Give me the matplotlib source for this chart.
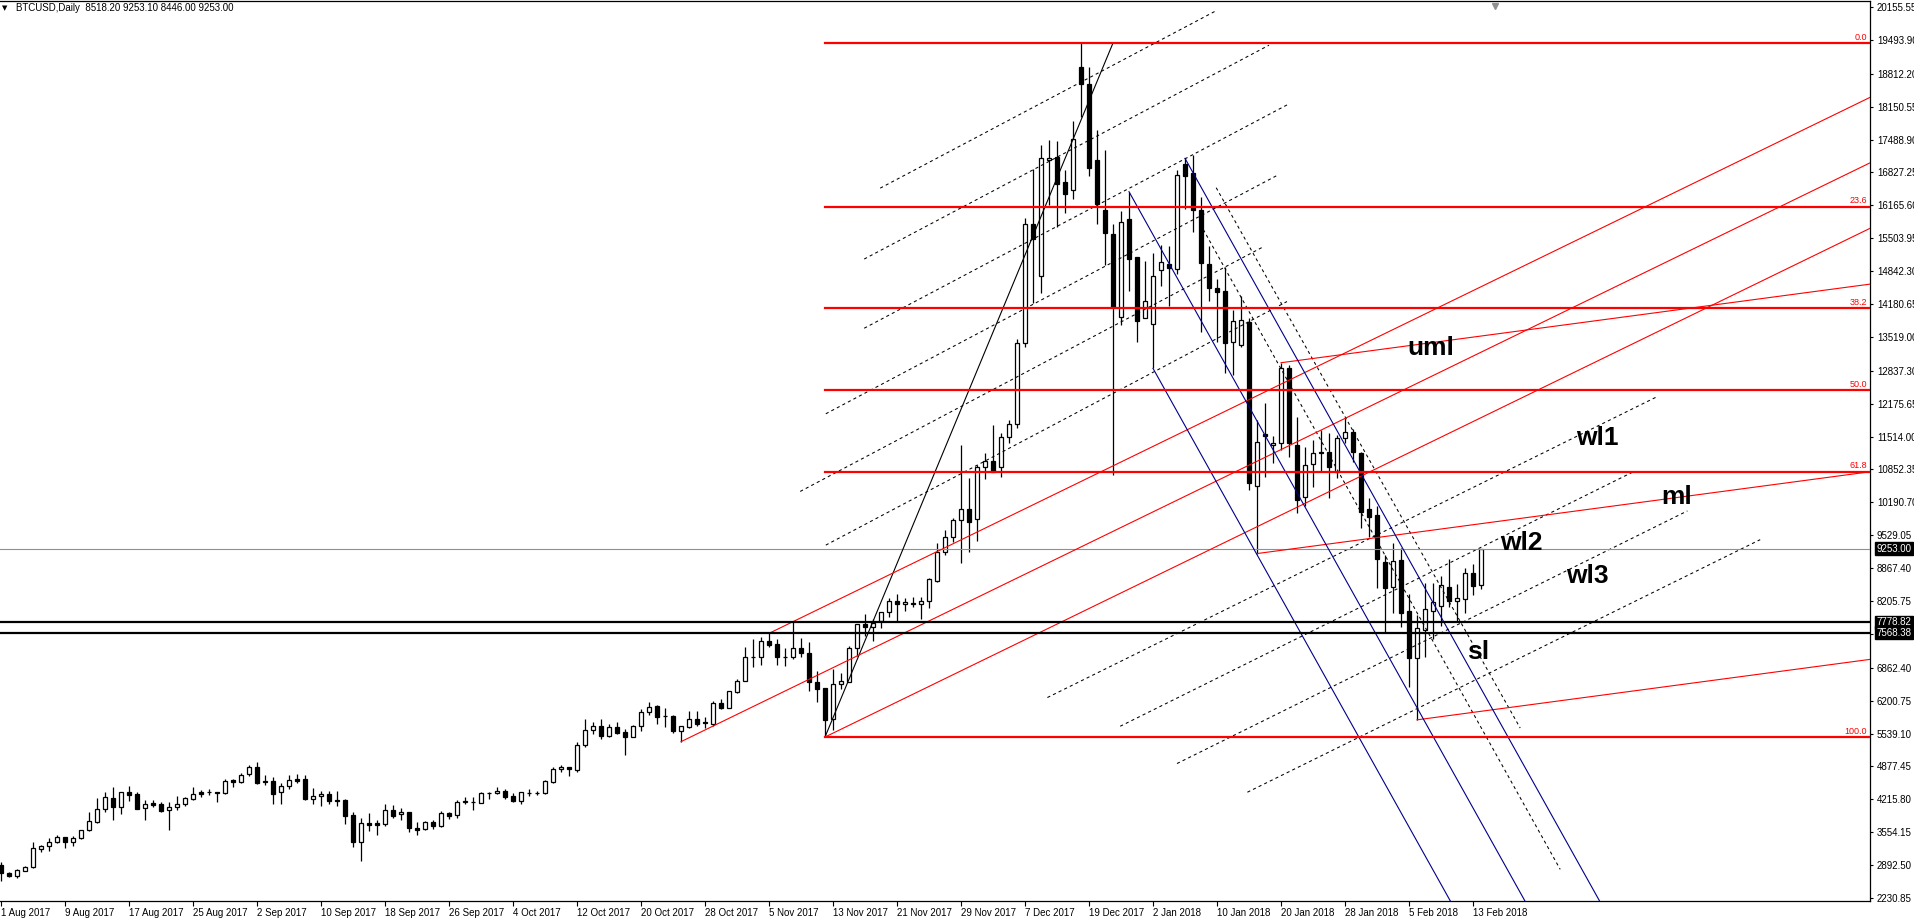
import matplotlib
matplotlib.use("Agg")
import matplotlib.pyplot as plt
import numpy as np

plt.rcParams["font.family"] = ["Liberation Sans", "DejaVu Sans"]

# daily candles, bar 0 = 1 Aug 2017
OPEN = [
    2894, 2733, 2679, 2780, 2847, 3222, 3269, 3350, 3457, 3363,
    3430, 3591, 3765, 4013, 4235, 4067, 4355, 4315, 4034, 4141,
    4114, 3993, 4067, 4114, 4228, 4362, 4362, 4355, 4335, 4604,
    4557, 4718, 4858, 4583, 4577, 4355, 4476, 4624, 4617, 4228,
    4275, 4315, 4201, 4201, 3893, 3363, 3739, 3739, 3725, 3993,
    3913, 3953, 3638, 3610, 3770, 3670, 3934, 3894, 4162, 4169,
    4148, 4336, 4336, 4383, 4282, 4189, 4350, 4350, 4336, 4571,
    4819, 4859, 4806, 5302, 5604, 5684, 5496, 5664, 5563, 5476,
    5684, 5966, 6086, 5885, 5892, 5597, 5677, 5825, 5765, 5738,
    6147, 6060, 6381, 6589, 7072, 7072, 7401, 7334, 7086, 7072,
    7253, 7153, 6569, 6448, 5824, 6535, 6582, 7253, 7736, 7689,
    7809, 7977, 8198, 8138, 8158, 8138, 8198, 8614, 9184, 9499,
    9828, 10049, 9848, 10907, 11021, 10894, 11511, 11760, 13389, 15783,
    14751, 17077, 17131, 16628, 16474, 18942, 18606, 17077, 16072, 15589,
    13912, 15891, 15119, 13892, 13771, 14865, 14985, 14878, 16997, 16822,
    16071, 14978, 14508, 14441, 13409, 13348, 13824, 10518, 11564, 11336,
    11390, 12886, 11343, 10304, 10961, 11209, 11196, 10807, 11478, 11599,
    11189, 10049, 9935, 8983, 8480, 9030, 8004, 7065, 7622, 8004,
    8105, 8494, 8212, 8239, 8762, 8518.2,
]
HIGH = [
    2947, 2746, 2813, 2867, 3350, 3303, 3437, 3497, 3464, 3477,
    3604, 3960, 4241, 4362, 4456, 4369, 4476, 4355, 4201, 4201,
    4154, 4154, 4275, 4255, 4456, 4409, 4416, 4362, 4617, 4624,
    4744, 4905, 4966, 4697, 4657, 4537, 4697, 4717, 4697, 4436,
    4376, 4376, 4382, 4228, 3953, 3839, 3933, 3799, 4121, 4094,
    4034, 3953, 3752, 3790, 3800, 3981, 3954, 4202, 4269, 4269,
    4370, 4370, 4457, 4423, 4336, 4356, 4417, 4383, 4604, 4873,
    4906, 4873, 5369, 5832, 5778, 5832, 5731, 5771, 5630, 5704,
    6026, 6167, 6107, 6053, 5912, 5691, 5993, 5993, 5865, 6194,
    6234, 6388, 6636, 7273, 7434, 7475, 7568, 7434, 7253, 7790,
    7454, 7374, 6797, 6448, 6830, 6763, 7300, 7736, 7943, 7836,
    7977, 8259, 8339, 8259, 8279, 8279, 8661, 9365, 9633, 9868,
    11343, 10673, 10941, 11176, 11746, 11591, 11846, 13470, 15904, 16890,
    17379, 17480, 17460, 16876, 17862, 19431, 18942, 17681, 17279, 15790,
    16051, 16440, 15119, 15052, 15213, 15367, 15347, 16876, 17111, 17177,
    16339, 15347, 14676, 14931, 14059, 14348, 13891, 11846, 12181, 11524,
    12999, 12953, 11913, 11310, 11444, 11645, 11591, 11544, 11880, 11659,
    11210, 10271, 10116, 9131, 9365, 9265, 8339, 7924, 8574, 8574,
    8708, 9044, 8540, 8862, 8950, 9253.1,
]
LOW = [
    2578, 2659, 2639, 2773, 2840, 3162, 3182, 3343, 3242, 3282,
    3410, 3584, 3745, 3966, 3799, 3919, 4188, 4020, 3799, 4054,
    3966, 3598, 4000, 4087, 4201, 4255, 4302, 4168, 4329, 4469,
    4537, 4691, 4516, 4510, 4127, 4127, 4429, 4537, 4208, 4127,
    4087, 4127, 4087, 3725, 3262, 2981, 3584, 3504, 3685, 3839,
    3806, 3564, 3504, 3590, 3620, 3660, 3813, 3847, 4122, 4001,
    4135, 4215, 4316, 4222, 4169, 4122, 4282, 4303, 4316, 4537,
    4772, 4685, 4772, 5262, 5523, 5436, 5476, 5523, 5107, 5476,
    5597, 5912, 5731, 5677, 5557, 5376, 5644, 5698, 5657, 5691,
    6026, 6060, 6348, 6589, 6884, 6918, 7287, 6918, 6904, 7032,
    7086, 6402, 6180, 5469, 5610, 6428, 6582, 7098, 7501, 7407,
    7655, 7890, 7809, 7997, 8078, 7836, 8071, 8594, 9130, 9399,
    8976, 9197, 9419, 10666, 10807, 10693, 11390, 11679, 13322, 14194,
    14408, 16172, 15736, 16004, 16293, 17949, 16762, 15790, 14965, 10740,
    13758, 14449, 13423, 13892, 12886, 14549, 14140, 14784, 16092, 15635,
    13623, 14247, 13422, 12785, 12751, 13322, 10438, 9160, 10693, 10974,
    11242, 11095, 9982, 10116, 10491, 10820, 10270, 10672, 11377, 11008,
    9667, 9499, 8460, 7555, 7957, 7689, 6482, 5815, 7085, 7434,
    7702, 8091, 7789, 7957, 8326, 8446.0,
]
CLOSE = [
    2726, 2679, 2786, 2853, 3229, 3276, 3350, 3457, 3363, 3430,
    3591, 3772, 4013, 4255, 4067, 4355, 4308, 4027, 4114, 4107,
    3987, 4054, 4114, 4235, 4329, 4329, 4355, 4335, 4590, 4557,
    4711, 4858, 4550, 4557, 4329, 4476, 4597, 4590, 4228, 4275,
    4315, 4188, 4188, 3886, 3363, 3732, 3705, 3705, 3993, 3886,
    3953, 3631, 3604, 3770, 3670, 3934, 3880, 4162, 4175, 4172,
    4336, 4338, 4383, 4269, 4189, 4356, 4352, 4352, 4584, 4819,
    4859, 4819, 5309, 5604, 5684, 5496, 5664, 5557, 5476, 5684,
    5966, 6080, 5879, 5887, 5597, 5691, 5825, 5731, 5744, 6147,
    6060, 6388, 6596, 7072, 7074, 7401, 7320, 7086, 7088, 7253,
    7153, 6569, 6442, 5811, 6535, 6589, 7253, 7736, 7689, 7769,
    7977, 8198, 8138, 8178, 8138, 8198, 8641, 9184, 9486, 9828,
    10049, 9801, 10894, 11021, 10807, 11511, 11759, 13389, 15783, 15481,
    17111, 17111, 16588, 16387, 17500, 18600, 16910, 16186, 15602, 14127,
    15837, 15079, 13845, 14241, 14744, 15019, 14898, 16776, 16762, 16071,
    14998, 14495, 14428, 13389, 13845, 13851, 10572, 11410, 11524, 11377,
    12886, 11377, 10237, 10934, 11176, 11176, 10907, 11477, 11599, 11210,
    10002, 9888, 9044, 8460, 9017, 7970, 7065, 7669, 8038, 8178,
    8520, 8212, 8259, 8762, 8514, 9253.0,
]

X_TICK_BARS = list(range(0, 185, 8))
X_TICK_LABELS = [
    "1 Aug 2017", "9 Aug 2017", "17 Aug 2017", "25 Aug 2017", "2 Sep 2017",
    "10 Sep 2017", "18 Sep 2017", "26 Sep 2017", "4 Oct 2017", "12 Oct 2017",
    "20 Oct 2017", "28 Oct 2017", "5 Nov 2017", "13 Nov 2017", "21 Nov 2017",
    "29 Nov 2017", "7 Dec 2017", "19 Dec 2017", "2 Jan 2018", "10 Jan 2018",
    "20 Jan 2018", "28 Jan 2018", "5 Feb 2018", "13 Feb 2018",
]
Y_TICKS = [
    20155.55, 19493.90, 18812.20, 18150.55, 17488.90, 16827.25, 16165.60,
    15503.95, 14842.30, 14180.65, 13519.00, 12837.30, 12175.65, 11514.00,
    10852.35, 10190.70, 9529.05, 8867.40, 8205.75, 7544.10, 6862.40,
    6200.75, 5539.10, 4877.45, 4215.80, 3554.15, 2892.50, 2230.85,
]

# drawing objects (bar index, price)
FIB_START = (103, 5469)
FIB_END = (139, 19431)
FIB_LEVELS = [0.0, 23.6, 38.2, 50.0, 61.8, 100.0]

PF_RED_A = [(85, 5376), (99, 7790), (103, 5469)]
PF_RED_A_UPPER_FROM = 96
PF_RED_B = [(157, 9160), (160, 12999), (177, 5815)]
PF_BLUE = [(141, 16440), (144, 12886), (148, 17111)]

DOT_LINES = [
    (109.9, 16511, 151.7, 20064),
    (107.9, 15085, 158.5, 19387),
    (107.9, 13693, 160.75, 18185),
    (103.1, 11972, 159.7, 16783),
    (99.9, 10410, 157.9, 15341),
    (103.1, 9330, 160.75, 14230),
    (130.8, 6264, 207.0, 12315),
    (139.9, 5686, 204.0, 10802),
    (147.0, 4936, 210.8, 10018),
    (155.8, 4359, 219.9, 9440),
    (151.9, 16520, 189.9, 5650),
    (149.9, 15790, 194.9, 2807),
]

H_LEVELS = [7778.82, 7568.38]
LAST_PRICE = 9253.00

TAGS = [
    ("uml", 178.75, 13295),
    ("wl1", 199.5, 11484),
    ("ml", 209.4, 10297),
    ("wl2", 190.1, 9372),
    ("wl3", 198.25, 8708),
    ("sl", 184.6, 7179),
]

XMIN, XMAX = -0.125, 233.625
YMIN, YMAX = 2170.7, 20276.0
RED = "#FF0000"
BLUE = "#00008B"


def draw_pitchfork(ax, anchors, color, starts=None):
    (b1, p1), (b2, p2), (b3, p3) = anchors
    mb, mp = (b2 + b3) / 2, (p2 + p3) / 2
    slope = (mp - p1) / (mb - b1)
    starts = starts or [b1, b2, b3]
    for (b, p), s in zip(anchors, starts):
        xs = np.array([s, 260.0])
        ax.plot(xs, p + slope * (xs - b), color=color, lw=0.8, zorder=6)


def main():
    fig = plt.figure(figsize=(19.15, 9.21), dpi=100)
    ax = fig.add_axes([0, 20 / 921, 1870 / 1915, 900 / 921])
    ax.set_xlim(XMIN, XMAX)
    ax.set_ylim(YMIN, YMAX)

    o = np.array(OPEN)
    h = np.array(HIGH)
    l = np.array(LOW)
    c = np.array(CLOSE)
    x = np.arange(len(o))
    up = c >= o

    ax.vlines(x, l, h, color="black", lw=0.9, zorder=3)
    ax.bar(x, np.abs(c - o), bottom=np.minimum(o, c), width=0.5,
           color=np.where(up, "white", "black"), edgecolor="black", lw=0.9, zorder=4)

    # fibonacci
    lo, hi = FIB_START[1], FIB_END[1]
    for lvl in FIB_LEVELS:
        price = hi - (hi - lo) * lvl / 100
        ax.plot([FIB_START[0], 260], [price, price], color=RED, lw=1.6, zorder=7)
        ax.text(0.9985, price + 30, f"{lvl:.1f}", transform=ax.get_yaxis_transform(),
                ha="right", va="bottom", color=RED, fontsize=6.5, zorder=8)
    ax.plot([FIB_START[0], FIB_END[0]], [FIB_START[1], FIB_END[1]], color="black", lw=0.8, zorder=6)

    draw_pitchfork(ax, PF_RED_A, RED, starts=[85, PF_RED_A_UPPER_FROM, 103])
    draw_pitchfork(ax, PF_RED_B, RED)
    draw_pitchfork(ax, PF_BLUE, BLUE)

    for b1, p1, b2, p2 in DOT_LINES:
        ax.plot([b1, b2], [p1, p2], color="black", lw=0.75, dashes=(3, 3), zorder=5)

    for lv in H_LEVELS:
        ax.axhline(lv, color="black", lw=1.6, zorder=7)
    ax.axhline(LAST_PRICE, color="#909090", lw=0.8, zorder=5)

    for txt, bx, py in TAGS:
        ax.text(bx, py, txt, ha="center", va="center", fontsize=19,
                fontweight="bold", color="black", zorder=9)

    # axes frame and ticks
    ax.spines["left"].set_visible(False)
    for side in ["top", "right", "bottom"]:
        ax.spines[side].set_linewidth(0.9)
        ax.spines[side].set_color("black")

    ax.set_xticks(X_TICK_BARS)
    ax.set_xticklabels(X_TICK_LABELS, ha="left", fontsize=7)
    ax.tick_params(axis="x", direction="out", length=3.5, width=0.8, pad=1.5)

    ax.yaxis.tick_right()
    ax.set_yticks(Y_TICKS)
    ax.set_yticklabels([f"{v:.2f}" for v in Y_TICKS], fontsize=7)
    ax.tick_params(axis="y", direction="out", length=2.5, width=0.8, pad=2.5)

    for lv in H_LEVELS + [LAST_PRICE]:
        ax.text(1.0034, lv, f"{lv:.2f}", transform=ax.get_yaxis_transform(), ha="left",
                va="center", color="white", fontsize=7, clip_on=False, zorder=10,
                bbox=dict(boxstyle="square,pad=0.15", fc="black", ec="black"))

    ax.plot([186.7], [0.994], marker="v", ms=5, color="#909090",
            transform=ax.get_xaxis_transform(), clip_on=False, zorder=10)

    fig.text(2 / 1915, 1 - 8 / 921, "\u25bc", fontsize=5, va="center", family="DejaVu Sans")
    fig.text(16 / 1915, 1 - 8 / 921, "BTCUSD,Daily  8518.20 9253.10 8446.00 9253.00",
             fontsize=7, va="center")

    fig.savefig("out.png", dpi=100)
    plt.close(fig)


if __name__ == "__main__":
    main()
